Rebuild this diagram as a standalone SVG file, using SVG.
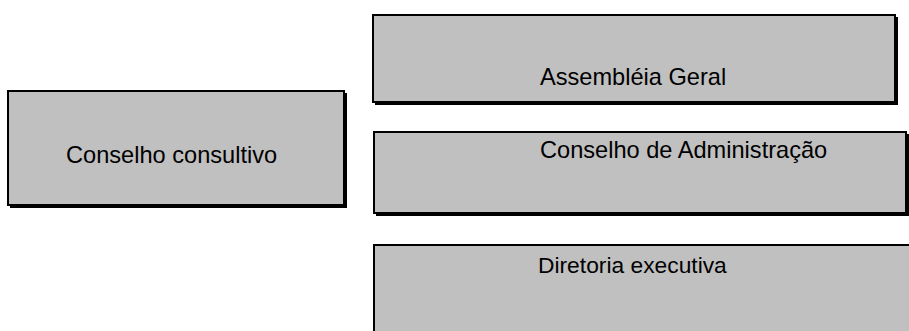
<svg xmlns="http://www.w3.org/2000/svg" width="909" height="331" viewBox="0 0 909 331">
<style>
.shadow{fill:#000000}
.box{fill:#c0c0c0;stroke:#000000;stroke-width:2}
.label{font-family:"Liberation Sans",Arial,sans-serif;font-size:23.6px;fill:#000000}
.label.small{font-size:22.8px}
</style>
<rect width="909" height="331" fill="#ffffff"/>
<g id="connectors"></g>
<g id="conselho-consultivo">
<rect class="shadow" x="10" y="93" width="337" height="115"/>
<rect class="box" x="8" y="91" width="336" height="114"/>
<text class="label" x="66" y="163">Conselho consultivo</text>
</g>
<g id="assembleia-geral">
<rect class="shadow" x="375" y="17" width="523" height="88"/>
<rect class="box" x="373" y="15" width="522" height="87"/>
<text class="label" x="540" y="85">Assembléia Geral</text>
</g>
<g id="conselho-administracao">
<rect class="shadow" x="376" y="134" width="533" height="82"/>
<rect class="box" x="374" y="132" width="532" height="81"/>
<text class="label" x="540" y="158">Conselho de Administração</text>
</g>
<g id="diretoria-executiva">
<rect class="shadow" x="376" y="247" width="540" height="100"/>
<rect class="box" x="374" y="245" width="540" height="100"/>
<text class="label small" x="538" y="273">Diretoria executiva</text>
</g>
</svg>
